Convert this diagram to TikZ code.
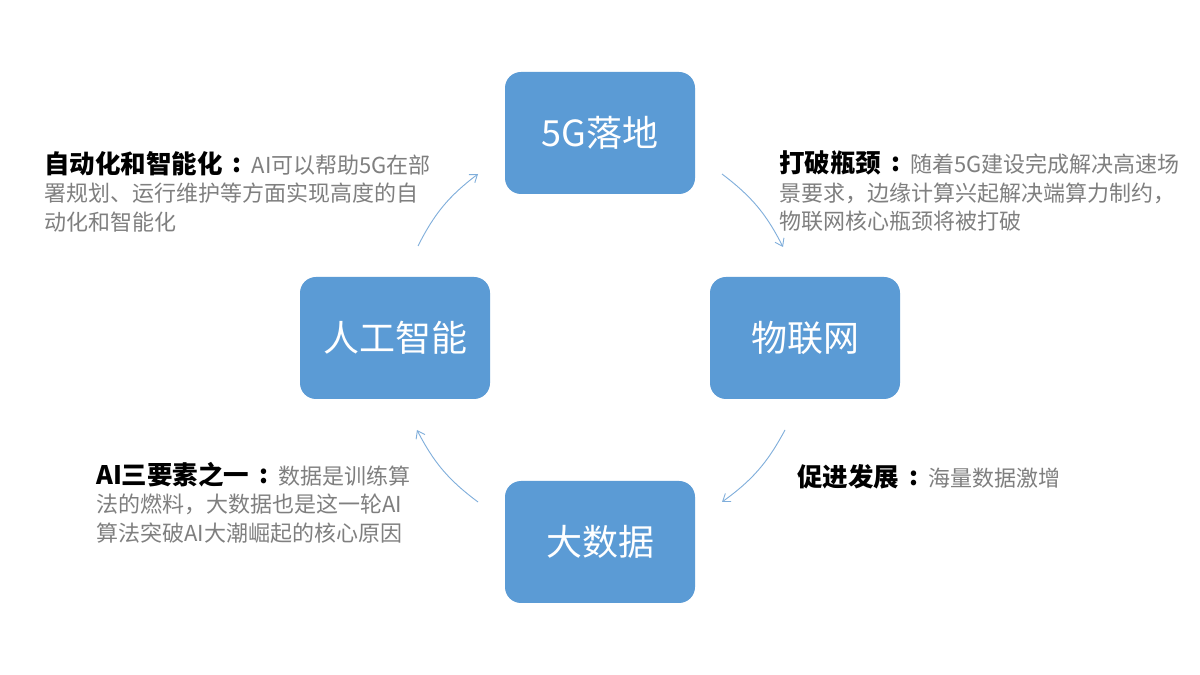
\documentclass[tikz,border=0pt]{standalone}
\usepackage{fontspec}
\setmainfont{Noto Sans CJK SC}
\usepackage{xcolor}
\usetikzlibrary{arrows.meta}
\definecolor{boxblue}{HTML}{5B9BD5}
\definecolor{arcblue}{HTML}{7FAEDB}
\definecolor{notegray}{HTML}{7F7F7F}
\newcommand{\notetitle}[1]{{\color{black}\fontsize{25.5}{28.5}\selectfont\bfseries #1\hspace{10pt}\raisebox{1pt}{:}\hspace{10pt}}}

\begin{document}
\begin{tikzpicture}[
  x=1pt, y=1pt,
  stage/.style={fill=boxblue, rounded corners=16pt, minimum width=190pt, minimum height=122pt, text=white, font=\fontsize{36}{40}\selectfont},
  note/.style={anchor=north west, inner sep=0pt, align=left, text=notegray, font=\fontsize{22}{28.5}\selectfont},
  cyclearrow/.style={-{Straight Barb[length=7pt,width=10pt]}, arcblue, line width=0.9pt}
]
  \fill[white] (0,0) rectangle (1200,675);
  \useasboundingbox (0,0) rectangle (1200,675);

  % stages
  \node[stage] (fiveg) at (600,542) {5G落地};
  \node[stage] (iot) at (805,337) {物联网};
  \node[stage] (bigdata) at (600,133) {大数据};
  \node[stage] (ai) at (395,337) {人工智能};

  % notes
  \node[note] (noteai) at (44,524) {\notetitle{自动化和智能化}AI可以帮助5G在部\\署规划、运行维护等方面实现高度的自\\动化和智能化};
  \node[note] (noteiot) at (779,524) {\notetitle{打破瓶颈}随着5G建设完成解决高速场\\景要求，边缘计算兴起解决端算力制约，\\物联网核心瓶颈将被打破};
  \node[note] (notedata) at (96,213) {\notetitle{AI三要素之一}数据是训练算\\法的燃料，大数据也是这一轮AI\\算法突破AI大潮崛起的核心原因};
  \node[note] (notegrow) at (797,211) {\notetitle{促进发展}海量数据激增};

  % cycle arrows
  \coordinate (a1s) at (722,501);
  \coordinate (a1e) at (783,428);
  \coordinate (a2s) at (785,245);
  \coordinate (a2e) at (722,173);
  \coordinate (a3s) at (478,173);
  \coordinate (a3e) at (417,245);
  \coordinate (a4s) at (418,429);
  \coordinate (a4e) at (478,501);
  \draw[cyclearrow] (a1s) to[bend left=13] (a1e);
  \draw[cyclearrow] (a2s) to[bend left=13] (a2e);
  \draw[cyclearrow] (a3s) to[bend left=13] (a3e);
  \draw[cyclearrow] (a4s) to[bend left=13] (a4e);
\end{tikzpicture}
\end{document}
